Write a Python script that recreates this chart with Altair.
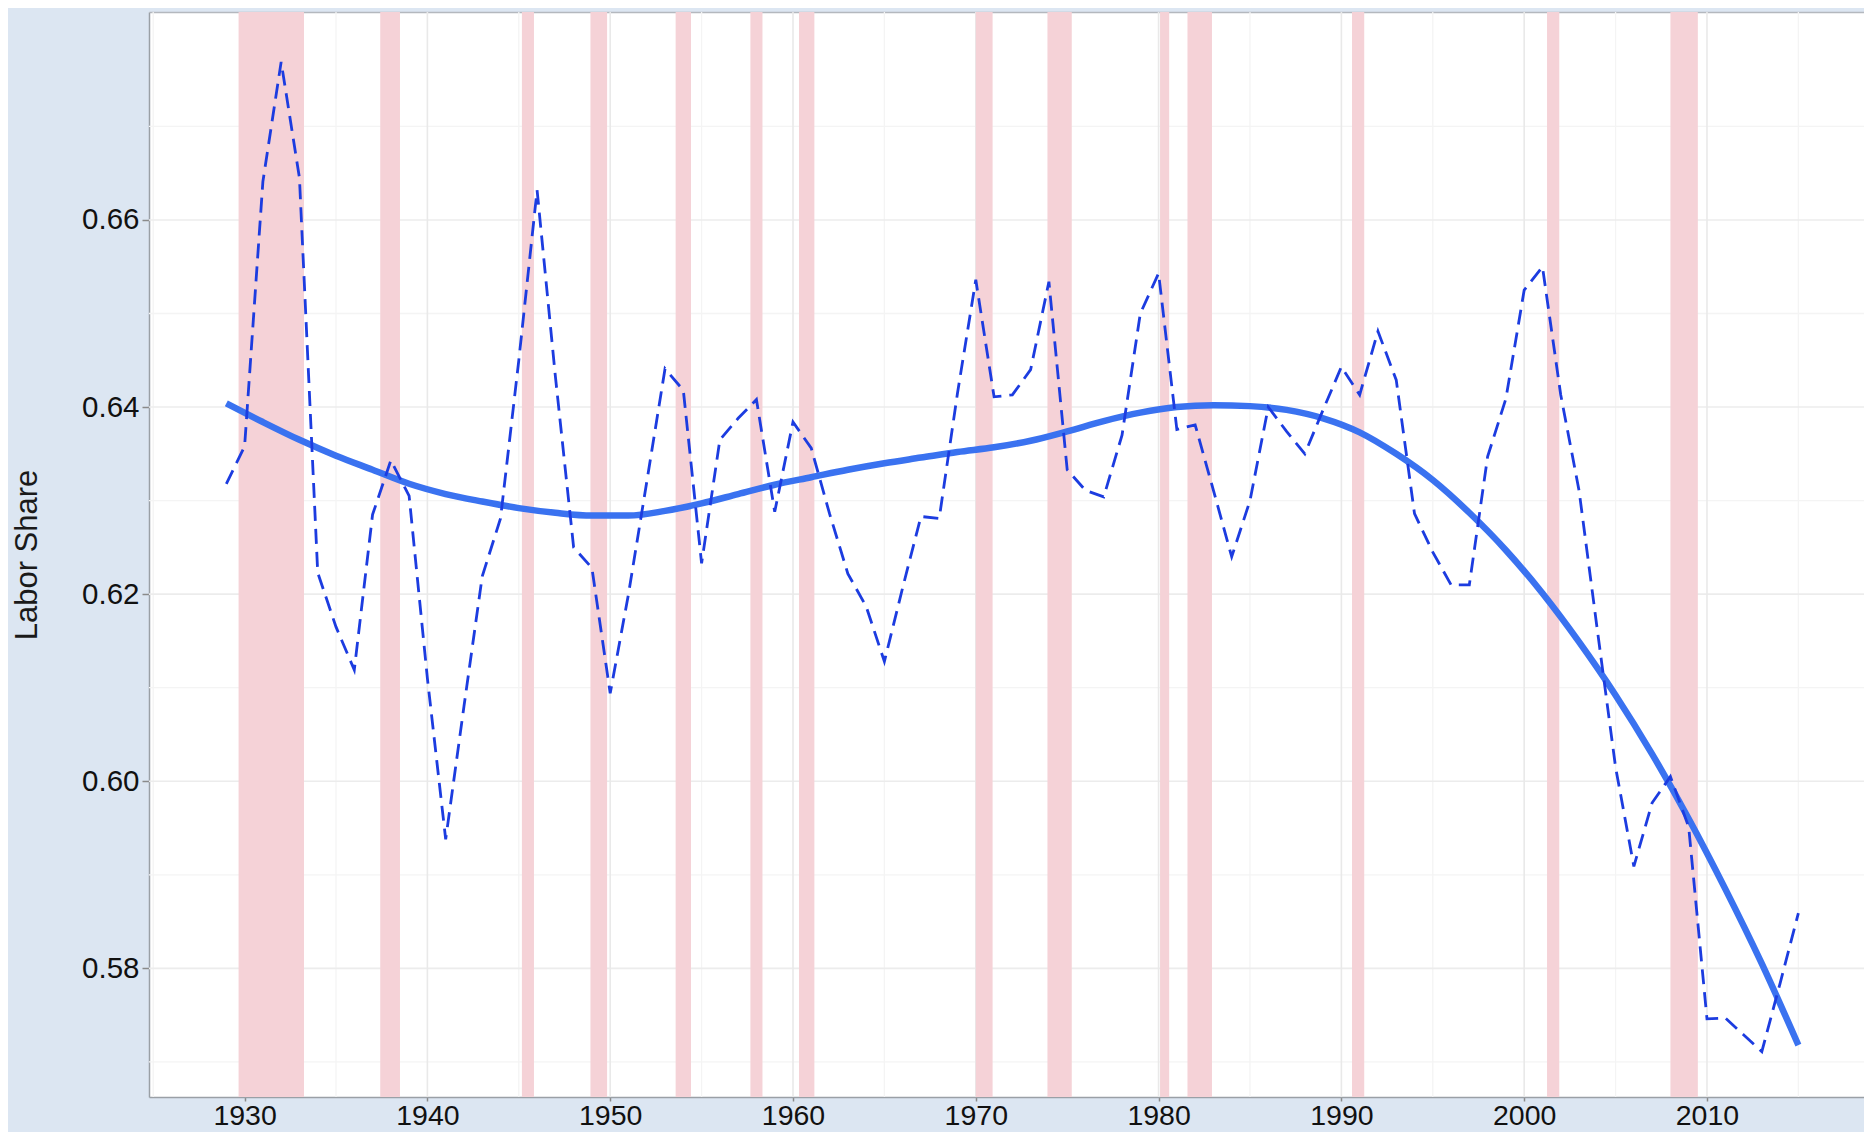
import altair as alt
import pandas as pd

# ---- data ----
years = list(range(1929, 2016))
labor_share = [
    0.6318, 0.6358, 0.6641, 0.6769, 0.6645, 0.6223, 0.6165, 0.6119, 0.6285, 0.6343,  # 1929-1938
    0.6305, 0.6110, 0.5938, 0.6080, 0.6219, 0.6281, 0.6450, 0.6632, 0.6433, 0.6250,  # 1939-1948
    0.6228, 0.6094, 0.6200, 0.6320, 0.6441, 0.6418, 0.6233, 0.6365, 0.6388, 0.6408,  # 1949-1958
    0.6288, 0.6384, 0.6356, 0.6286, 0.6222, 0.6187, 0.6128, 0.6207, 0.6283, 0.6281,  # 1959-1968
    0.6415, 0.6536, 0.6411, 0.6413, 0.6440, 0.6534, 0.6333, 0.6311, 0.6304, 0.6370,  # 1969-1978
    0.6500, 0.6543, 0.6376, 0.6381, 0.6311, 0.6240, 0.6300, 0.6400, 0.6374, 0.6350,  # 1979-1988
    0.6397, 0.6443, 0.6413, 0.6481, 0.6429, 0.6286, 0.6245, 0.6210, 0.6210, 0.6347,  # 1989-1998
    0.6409, 0.6525, 0.6550, 0.6413, 0.6311, 0.6162, 0.6015, 0.5909, 0.5977, 0.6005,  # 1999-2008
    0.5951, 0.5746, 0.5747, 0.5729, 0.5711, 0.5784, 0.5859,                          # 2009-2015
]

smooth_years = list(range(1929, 2016, 2))
smooth_share = [
    0.6404, 0.6384, 0.6365, 0.6348, 0.6333, 0.6318, 0.6307, 0.6299, 0.6292, 0.6287,  # 1929-1947
    0.6284, 0.6284, 0.6289, 0.6297, 0.6307, 0.6317, 0.6325, 0.6333, 0.6340, 0.6346,  # 1949-1967
    0.6352, 0.6357, 0.6364, 0.6374, 0.6385, 0.6394, 0.6400, 0.6402, 0.6401, 0.6397,  # 1969-1987
    0.6388, 0.6373, 0.6350, 0.6322, 0.6287, 0.6247, 0.6201, 0.6149, 0.6092, 0.6029,  # 1989-2007
    0.5960, 0.5885, 0.5805, 0.5718,                                                  # 2009-2015
]

rec_start = [1929.67, 1937.42, 1945.17, 1948.92, 1953.58, 1957.67, 1960.33,
             1970.00, 1973.92, 1980.08, 1981.58, 1990.58, 2001.25, 2008.00]
rec_end = [1933.25, 1938.50, 1945.83, 1949.83, 1954.42, 1958.33, 1961.17,
           1970.92, 1975.25, 1980.58, 1982.92, 1991.25, 2001.92, 2009.50]

x_ticks = [1930, 1940, 1950, 1960, 1970, 1980, 1990, 2000, 2010]
x_minor = [1925, 1935, 1945, 1955, 1965, 1975, 1985, 1995, 2005, 2015]
y_ticks = [0.58, 0.60, 0.62, 0.64, 0.66]
y_minor = [0.57, 0.59, 0.61, 0.63, 0.65, 0.67]

x_domain = [1924.77, 2018.59]
y_domain = [0.56625, 0.68223]

series = pd.DataFrame({"year": years, "share": labor_share})
smooth = pd.DataFrame({"year": smooth_years, "share": smooth_share})
rec = pd.DataFrame({"start": rec_start, "end": rec_end})
gx_major = pd.DataFrame({"v": x_ticks})
gx_minor = pd.DataFrame({"v": x_minor})
gy_major = pd.DataFrame({"v": y_ticks})
gy_minor = pd.DataFrame({"v": y_minor})

xs = alt.Scale(domain=x_domain, nice=False, zero=False)
ys = alt.Scale(domain=y_domain, nice=False, zero=False)

FONT = "Liberation Sans"

# the same y axis on every layer that encodes y, so the shared axis is kept
y_axis = alt.Axis(values=y_ticks, format=".2f", title="Labor Share", grid=False,
                  labelFontSize=29.5, labelFont=FONT, labelColor="#111111",
                  tickColor="#8a8a8a", tickSize=7, tickWidth=1.5,
                  labelPadding=3, domainColor="#9aa0a6", domainWidth=1.5,
                  titleFont=FONT, titleFontSize=31, titleFontWeight="normal",
                  titleColor="#1a1a1a", titlePadding=38, labelFlush=False)

x_axis = alt.Axis(values=x_ticks, format="d", title=None, grid=False,
                  labelFontSize=28.5, labelFont=FONT, labelColor="#111111",
                  tickColor="#8a8a8a", tickSize=4, tickWidth=1.5,
                  labelPadding=0, domainColor="#9aa0a6", domainWidth=1.5,
                  labelFlush=False)

top_axis = alt.Axis(orient="top", labels=False, ticks=False, grid=False,
                    domain=True, domainColor="#b4b8be", domainWidth=1.5, title=None)

grid_minor_y = alt.Chart(gy_minor).mark_rule(color="#f4f4f4", strokeWidth=1.3).encode(
    y=alt.Y("v:Q", scale=ys, axis=y_axis)
)
grid_minor_x = alt.Chart(gx_minor).mark_rule(color="#f4f4f4", strokeWidth=1.3).encode(
    x=alt.X("v:Q", scale=xs, axis=top_axis)
)
grid_major_y = alt.Chart(gy_major).mark_rule(color="#ececec", strokeWidth=1.6).encode(
    y=alt.Y("v:Q", scale=ys, axis=y_axis)
)
grid_major_x = alt.Chart(gx_major).mark_rule(color="#e9e9e9", strokeWidth=1.6).encode(
    x=alt.X("v:Q", scale=xs, axis=None)
)

recessions = alt.Chart(rec).mark_rect(color="#f5d2d7", opacity=1).encode(
    x=alt.X("start:Q", scale=xs, axis=None),
    x2="end:Q",
)

trend = alt.Chart(smooth).mark_line(
    color="#3a72f0", strokeWidth=6.5, interpolate="monotone"
).encode(
    x=alt.X("year:Q", scale=xs, axis=None),
    y=alt.Y("share:Q", scale=ys, axis=y_axis),
)

dashed = alt.Chart(series).mark_line(
    color="#1c3ce0", strokeWidth=2.8, strokeDash=[15, 8]
).encode(
    x=alt.X("year:Q", scale=xs, axis=x_axis),
    y=alt.Y("share:Q", scale=ys, axis=y_axis),
)

chart = alt.layer(
    grid_minor_y, grid_minor_x, grid_major_y, grid_major_x, recessions, trend, dashed
).resolve_axis(x="independent").properties(
    width=1715,
    height=1085,
    padding={"left": 141, "top": 4, "right": 0, "bottom": 35},
    autosize=alt.AutoSizeParams(type="none"),
    background="#dce6f2",
).configure_view(
    fill="white", stroke=None
)

chart.save("out.html", embed_options={"renderer": "svg", "actions": False})
